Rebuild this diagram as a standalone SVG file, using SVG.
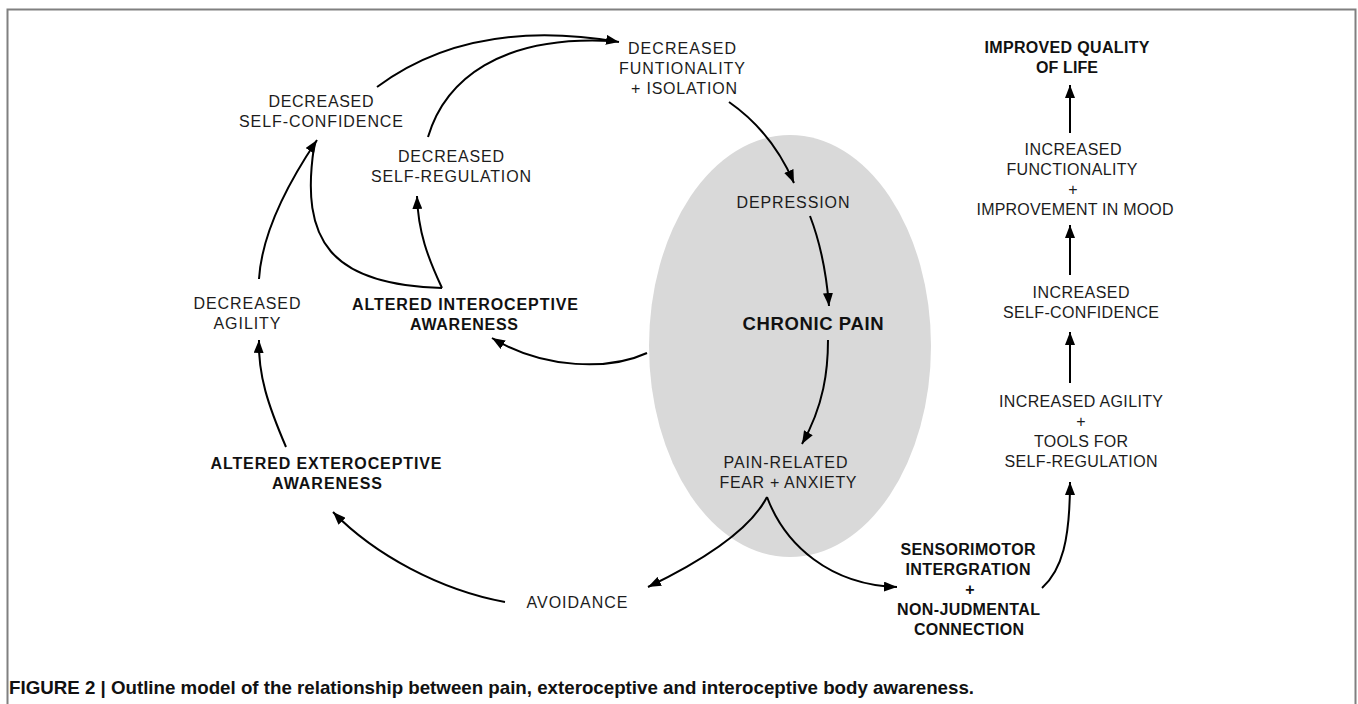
<svg xmlns="http://www.w3.org/2000/svg" width="1358" height="704" viewBox="0 0 1358 704">
<style>
text{font-family:"Liberation Sans",Arial,Helvetica,sans-serif;fill:#1c1c1c;text-anchor:middle}
.t{font-size:16px}
.b{font-size:16px;font-weight:bold;fill:#111}
.cap{font-size:18.5px;font-weight:bold;fill:#111;text-anchor:start}
.c{fill:none;stroke:#000;stroke-width:2}
.frame{fill:none;stroke:#808080;stroke-width:2}
</style>
<defs>
<marker id="ah" markerUnits="userSpaceOnUse" markerWidth="14" markerHeight="10" refX="13" refY="5" orient="auto" viewBox="0 0 14 10">
<path d="M0,0 L13,5 L0,10 Z" fill="#000"/>
</marker>
</defs>
<rect width="1358" height="704" fill="#fff"/>
<path class="frame" d="M7.5,704 V9.5 H1355.5 V704"/>
<ellipse id="chronic-pain-zone" cx="790" cy="346" rx="141" ry="211" fill="#d9d9d9"/>

<g id="connectors">
<path class="c" d="M377,87 C440,40 520,25 619,42" marker-end="url(#ah)"/>
<path class="c" d="M428,137 C445,80 500,35 612,41"/>
<path class="c" d="M729,102 Q772,132 794,183" marker-end="url(#ah)"/>
<path class="c" d="M810,216 Q825,255 829,306" marker-end="url(#ah)"/>
<path class="c" d="M828,340 C828,370 824,405 802,444" marker-end="url(#ah)"/>
<path class="c" d="M767,497 C750,530 700,562 648,587" marker-end="url(#ah)"/>
<path class="c" d="M767,497 C785,545 830,585 897,587" marker-end="url(#ah)"/>
<path class="c" d="M1042,588 C1062,570 1070,540 1070,482" marker-end="url(#ah)"/>
<path class="c" d="M1070,383 L1070,332" marker-end="url(#ah)"/>
<path class="c" d="M1070,275 L1070,225" marker-end="url(#ah)"/>
<path class="c" d="M1070,133 L1070,85" marker-end="url(#ah)"/>
<path class="c" d="M647,353 C610,370 545,370 492,338" marker-end="url(#ah)"/>
<path class="c" d="M442,288 C428,258 418,232 417,196" marker-end="url(#ah)"/>
<path class="c" d="M442,288 C330,285 300,240 314,147"/>
<path class="c" d="M259,279 C262,230 290,180 317,140" marker-end="url(#ah)"/>
<path class="c" d="M286,447 C268,405 258,375 259,340" marker-end="url(#ah)"/>
<path class="c" d="M505,602 C440,590 375,555 333,512" marker-end="url(#ah)"/>
</g>

<g id="decreased-functionality">
<text class="t" x="682" y="54" textLength="108" lengthAdjust="spacing">DECREASED</text>
<text class="t" x="682" y="74" textLength="126" lengthAdjust="spacing">FUNTIONALITY</text>
<text class="t" x="684" y="94" textLength="106" lengthAdjust="spacing">+ ISOLATION</text>
</g>
<g id="depression">
<text class="t" x="793" y="208" textLength="113" lengthAdjust="spacing">DEPRESSION</text>
</g>
<g id="chronic-pain">
<text class="b" style="font-size:18.5px" x="813" y="330" textLength="141" lengthAdjust="spacing">CHRONIC PAIN</text>
</g>
<g id="pain-related-fear">
<text class="t" x="785.5" y="468" textLength="124" lengthAdjust="spacing">PAIN-RELATED</text>
<text class="t" x="788" y="488" textLength="137" lengthAdjust="spacing">FEAR + ANXIETY</text>
</g>
<g id="avoidance">
<text class="t" x="577" y="608" textLength="101" lengthAdjust="spacing">AVOIDANCE</text>
</g>
<g id="altered-exteroceptive">
<text class="b" x="326" y="469" textLength="231" lengthAdjust="spacing">ALTERED EXTEROCEPTIVE</text>
<text class="b" x="327" y="489" textLength="110" lengthAdjust="spacing">AWARENESS</text>
</g>
<g id="decreased-agility">
<text class="t" x="247" y="309" textLength="107" lengthAdjust="spacing">DECREASED</text>
<text class="t" x="247" y="329" textLength="67" lengthAdjust="spacing">AGILITY</text>
</g>
<g id="altered-interoceptive">
<text class="b" x="465" y="310" textLength="226" lengthAdjust="spacing">ALTERED INTEROCEPTIVE</text>
<text class="b" x="464" y="330" textLength="108" lengthAdjust="spacing">AWARENESS</text>
</g>
<g id="decreased-self-confidence">
<text class="t" x="321" y="107" textLength="105" lengthAdjust="spacing">DECREASED</text>
<text class="t" x="321" y="127" textLength="164" lengthAdjust="spacing">SELF-CONFIDENCE</text>
</g>
<g id="decreased-self-regulation">
<text class="t" x="451" y="162" textLength="106" lengthAdjust="spacing">DECREASED</text>
<text class="t" x="451" y="182" textLength="160" lengthAdjust="spacing">SELF-REGULATION</text>
</g>
<g id="sensorimotor">
<text class="b" x="968" y="555" textLength="135" lengthAdjust="spacing">SENSORIMOTOR</text>
<text class="b" x="968" y="575" textLength="125" lengthAdjust="spacing">INTERGRATION</text>
<text class="b" x="970" y="595">+</text>
<text class="b" x="968.5" y="615" textLength="143" lengthAdjust="spacing">NON-JUDMENTAL</text>
<text class="b" x="969" y="635" textLength="110" lengthAdjust="spacing">CONNECTION</text>
</g>
<g id="increased-agility">
<text class="t" x="1081" y="407" textLength="164" lengthAdjust="spacing">INCREASED AGILITY</text>
<text class="t" x="1081" y="427">+</text>
<text class="t" x="1081" y="447" textLength="94" lengthAdjust="spacing">TOOLS FOR</text>
<text class="t" x="1081" y="467" textLength="153" lengthAdjust="spacing">SELF-REGULATION</text>
</g>
<g id="increased-self-confidence">
<text class="t" x="1081" y="298" textLength="97" lengthAdjust="spacing">INCREASED</text>
<text class="t" x="1081" y="318" textLength="156" lengthAdjust="spacing">SELF-CONFIDENCE</text>
</g>
<g id="increased-functionality">
<text class="t" x="1073" y="155" textLength="97" lengthAdjust="spacing">INCREASED</text>
<text class="t" x="1072" y="175" textLength="131" lengthAdjust="spacing">FUNCTIONALITY</text>
<text class="t" x="1073" y="195">+</text>
<text class="t" x="1075" y="215" textLength="197" lengthAdjust="spacing">IMPROVEMENT IN MOOD</text>
</g>
<g id="improved-quality">
<text class="b" x="1067" y="53" textLength="165" lengthAdjust="spacing">IMPROVED QUALITY</text>
<text class="b" x="1067" y="73" textLength="62" lengthAdjust="spacing">OF LIFE</text>
</g>
<text class="cap" x="9" y="694" textLength="965" lengthAdjust="spacingAndGlyphs">FIGURE 2 | Outline model of the relationship between pain, exteroceptive and interoceptive body awareness.</text>
</svg>
